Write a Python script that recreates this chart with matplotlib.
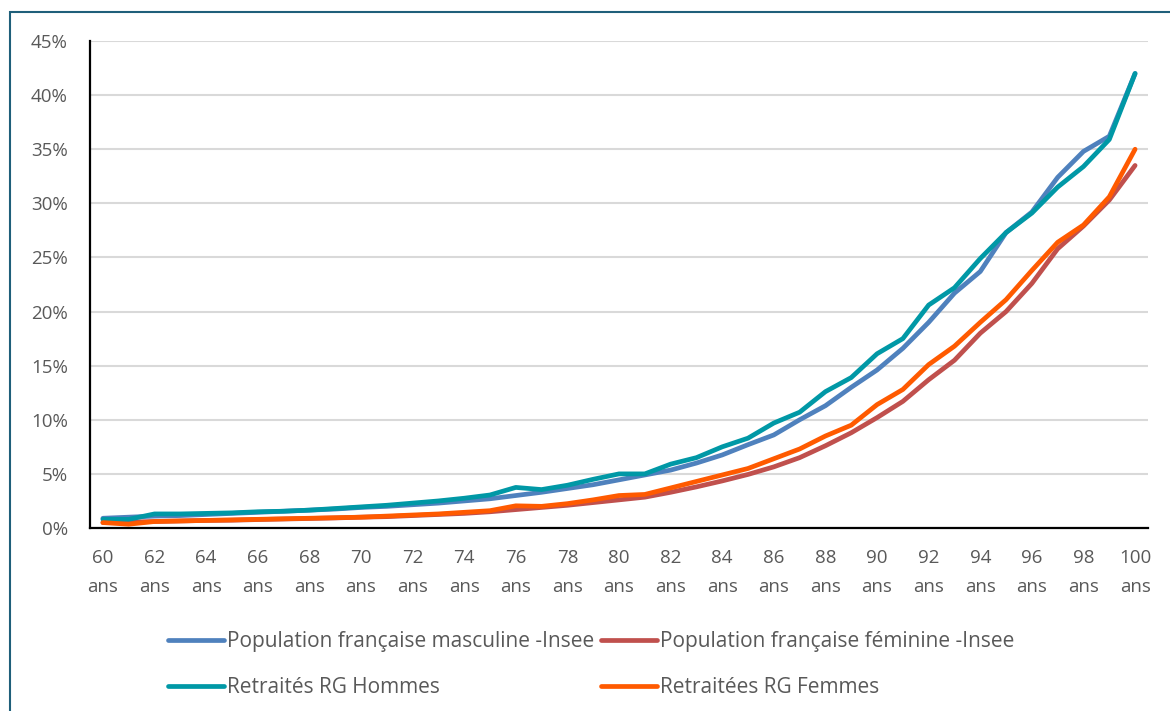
import matplotlib.pyplot as plt
from matplotlib.patches import Rectangle
import numpy

plt.rcParams['font.family'] = ['Open Sans', 'DejaVu Sans']

#ages 60 to 100
ages = list(range(60, 101))

#taux en %
pop_hommes = [0.9, 1.0, 1.1, 1.15, 1.25, 1.35, 1.45, 1.55, 1.65, 1.75,
              1.9, 2.0, 2.15, 2.3, 2.5, 2.7, 3.0, 3.3, 3.65, 4.0,
              4.45, 4.9, 5.35, 6.0, 6.75, 7.7, 8.6, 10.0, 11.3, 13.0,
              14.6, 16.6, 19.0, 21.7, 23.7, 27.3, 29.2, 32.4, 34.8, 36.2,
              42.0]
pop_femmes = [0.5, 0.55, 0.6, 0.65, 0.7, 0.72, 0.78, 0.83, 0.88, 0.93,
              1.0, 1.05, 1.15, 1.25, 1.35, 1.5, 1.7, 1.9, 2.1, 2.35,
              2.6, 2.85, 3.3, 3.8, 4.35, 4.95, 5.65, 6.5, 7.6, 8.8,
              10.2, 11.7, 13.7, 15.5, 18.0, 20.0, 22.6, 25.8, 27.9, 30.3,
              33.5]
rg_hommes = [0.8, 0.8, 1.3, 1.3, 1.35, 1.4, 1.5, 1.55, 1.65, 1.8,
             1.95, 2.1, 2.3, 2.5, 2.75, 3.05, 3.75, 3.55, 3.95, 4.5,
             5.0, 5.0, 5.9, 6.5, 7.5, 8.3, 9.7, 10.7, 12.6, 13.9,
             16.1, 17.5, 20.6, 22.2, 24.9, 27.3, 29.1, 31.5, 33.4, 35.9,
             42.0]
rg_femmes = [0.5, 0.35, 0.6, 0.65, 0.7, 0.75, 0.8, 0.85, 0.9, 0.95,
             1.0, 1.1, 1.2, 1.3, 1.45, 1.6, 2.05, 2.0, 2.25, 2.6,
             3.0, 3.1, 3.7, 4.3, 4.9, 5.5, 6.4, 7.3, 8.5, 9.5,
             11.4, 12.8, 15.1, 16.8, 19.0, 21.1, 23.8, 26.4, 28.0, 30.6,
             35.0]

labels = ['Population française masculine -Insee',
          'Population française féminine -Insee',
          'Retraités RG Hommes',
          'Retraitées RG Femmes']
colors = ['#4f81bd', '#c0504d', '#0098a6', '#ff5a00']

fig = plt.figure(figsize=(11.7, 7.11), dpi=100)
ax = fig.add_axes([90/1170, 1-528/711, (1148-90)/1170, (528-41)/711])

series = [pop_hommes, pop_femmes, rg_hommes, rg_femmes]
lines = []
for s, lab, c in zip(series, labels, colors):
    l, = ax.plot(ages, s, color=c, lw=3.4, label=lab, solid_capstyle='round', solid_joinstyle='round')
    lines.append(l)

ax.set_xlim(59.5, 100.5)
ax.set_ylim(0, 45)
ax.set_yticks(numpy.arange(0, 46, 5))
ax.set_yticklabels(['%d%%' % v for v in range(0, 46, 5)])
xt = list(range(60, 101, 2))
ax.set_xticks(xt)
ax.set_xticklabels(['%d\nans' % a for a in xt], linespacing=1.8)
ax.tick_params(axis='both', length=0, labelsize=13.5, labelcolor='#595959')
ax.tick_params(axis='y', pad=16)
ax.tick_params(axis='x', pad=15)

ax.grid(axis='y', color='#d9d9d9', lw=1.5)
ax.set_axisbelow(True)
for sp in ['top', 'right']:
    ax.spines[sp].set_visible(False)
ax.spines['left'].set_linewidth(1.6)
ax.spines['bottom'].set_linewidth(1.6)

#legend order: col1 = blue, teal ; col2 = red, orange
order = [0, 2, 1, 3]
ax.legend([lines[i] for i in order], [labels[i] for i in order], ncol=2,
          loc='upper left', bbox_to_anchor=(168/1170, 1-631/711), bbox_transform=fig.transFigure,
          frameon=False, fontsize=15, labelcolor='#595959', handlelength=2.7,
          handletextpad=0.15, columnspacing=0.3, labelspacing=1.2, borderpad=0, borderaxespad=0)

#cadre
fig.patches.append(Rectangle((10/1170, -0.02), 1.05, 1-12/711+0.02, transform=fig.transFigure,
                             fill=False, edgecolor='#1f5f7a', lw=1.5))

plt.savefig('out.png', dpi=100)
